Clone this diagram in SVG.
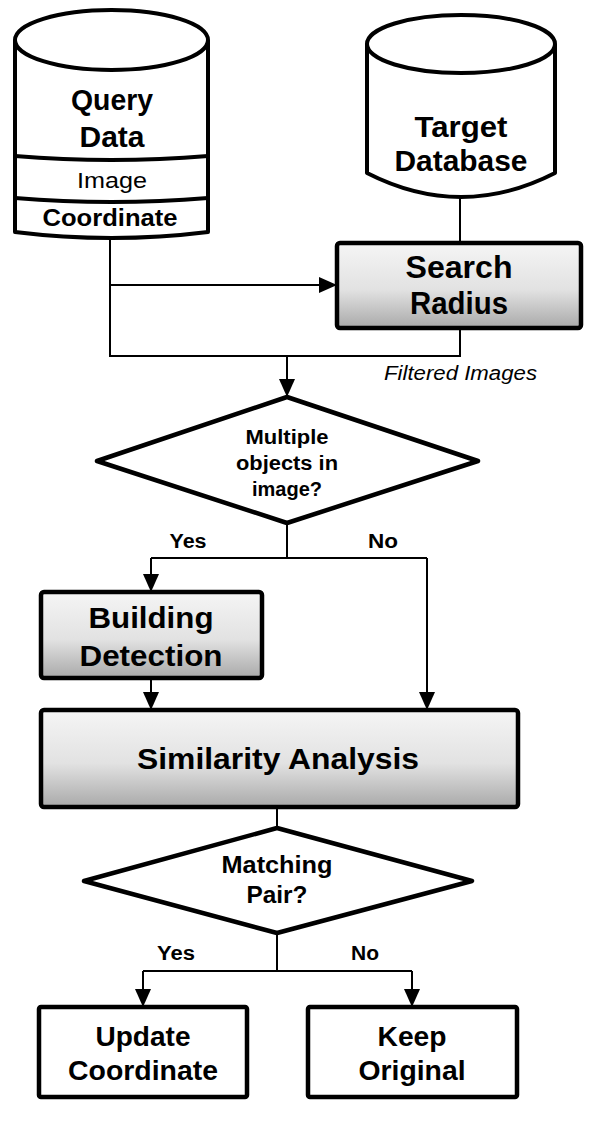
<svg xmlns="http://www.w3.org/2000/svg" width="594" height="1124" viewBox="0 0 594 1124">
<style>
  .shape{stroke:#000;stroke-width:4.5;stroke-linejoin:round}
  .cyl{fill:#fff;stroke:#000;stroke-width:4;stroke-linejoin:round}
  .band{fill:none;stroke:#000;stroke-width:4}
  .plain{fill:#fff}
  .grad{fill:url(#g)}
  .conn{fill:none;stroke:#000;stroke-width:2}
  .arr{marker-end:url(#ah)}
  text{font-family:"Liberation Sans",Arial,sans-serif;fill:#000;text-anchor:middle}
  .b{font-weight:bold}
  .it{font-style:italic;text-anchor:start}
</style>
<defs>
  <linearGradient id="g" x1="0" y1="0" x2="0" y2="1">
    <stop offset="0" stop-color="#f5f5f5"/>
    <stop offset="0.55" stop-color="#e2e2e2"/>
    <stop offset="1" stop-color="#a9a9a9"/>
  </linearGradient>
  <marker id="ah" markerUnits="userSpaceOnUse" markerWidth="18" markerHeight="16" refX="18" refY="8" orient="auto" viewBox="0 0 18 16">
    <path d="M0,0 L18,8 L0,16 Z" fill="#000"/>
  </marker>
</defs>

<g id="connectors">
  <path class="conn" d="M110,238 V356 H460 V328"/>
  <path class="conn arr" d="M110,285 H337"/>
  <path class="conn" d="M460,197 V243"/>
  <path class="conn arr" d="M287,356 V397"/>
  <path class="conn" d="M287,523 V558 M151,558 H427"/>
  <path class="conn arr" d="M151,558 V592"/>
  <path class="conn arr" d="M427,558 V710"/>
  <path class="conn arr" d="M151,678 V710"/>
  <path class="conn" d="M277,807 V828"/>
  <path class="conn" d="M277,933 V971 M143,971 H412"/>
  <path class="conn arr" d="M143,971 V1007"/>
  <path class="conn arr" d="M412,971 V1007"/>
</g>

<g id="query-data">
  <path class="cyl" d="M15,40 A96.5,30 0 0 1 208,40 V232 Q111.5,244 15,232 Z"/>
  <path class="band" d="M15,40 A96.5,30 0 0 0 208,40"/>
  <path class="band" d="M15,156 Q111.5,164 208,156"/>
  <path class="band" d="M15,198 Q111.5,206 208,198"/>
  <text class="b" x="112" y="110" font-size="29" textLength="82" lengthAdjust="spacingAndGlyphs">Query</text>
  <text class="b" x="112" y="147" font-size="29" textLength="65" lengthAdjust="spacingAndGlyphs">Data</text>
  <text x="112" y="188" font-size="22" textLength="70" lengthAdjust="spacingAndGlyphs">Image</text>
  <text class="b" x="110" y="226" font-size="24" textLength="135" lengthAdjust="spacingAndGlyphs">Coordinate</text>
</g>

<g id="target-database">
  <path class="cyl" d="M367,44 A94,29 0 0 1 555,44 V173 Q461,221 367,173 Z"/>
  <path class="band" d="M367,44 A94,29 0 0 0 555,44"/>
  <text class="b" x="461" y="137" font-size="30" textLength="93" lengthAdjust="spacingAndGlyphs">Target</text>
  <text class="b" x="461" y="171" font-size="30" textLength="133" lengthAdjust="spacingAndGlyphs">Database</text>
</g>

<g id="search-radius">
  <rect class="shape grad" x="337" y="243" width="244" height="85" rx="3"/>
  <text class="b" x="459" y="278" font-size="31" textLength="107" lengthAdjust="spacingAndGlyphs">Search</text>
  <text class="b" x="459" y="314" font-size="31" textLength="98" lengthAdjust="spacingAndGlyphs">Radius</text>
</g>

<g id="filtered-label">
  <text class="it" x="384" y="380" font-size="20" textLength="153" lengthAdjust="spacingAndGlyphs">Filtered Images</text>
</g>

<g id="decision-multiple">
  <polygon class="shape plain" points="287,397 478,461 287,523 97,461"/>
  <text class="b" x="287" y="444" font-size="20" textLength="83" lengthAdjust="spacingAndGlyphs">Multiple</text>
  <text class="b" x="287" y="470" font-size="20" textLength="102" lengthAdjust="spacingAndGlyphs">objects in</text>
  <text class="b" x="287" y="496" font-size="20" textLength="70" lengthAdjust="spacingAndGlyphs">image?</text>
  <text class="b" x="188" y="548" font-size="20" textLength="37" lengthAdjust="spacingAndGlyphs">Yes</text>
  <text class="b" x="383" y="548" font-size="20" textLength="30" lengthAdjust="spacingAndGlyphs">No</text>
</g>

<g id="building-detection">
  <rect class="shape grad" x="41" y="592" width="221" height="86" rx="3"/>
  <text class="b" x="151" y="628" font-size="30" textLength="125" lengthAdjust="spacingAndGlyphs">Building</text>
  <text class="b" x="151" y="666" font-size="30" textLength="143" lengthAdjust="spacingAndGlyphs">Detection</text>
</g>

<g id="similarity-analysis">
  <rect class="shape grad" x="41" y="710" width="477" height="97" rx="3"/>
  <text class="b" x="278" y="769" font-size="30" textLength="282" lengthAdjust="spacingAndGlyphs">Similarity Analysis</text>
</g>

<g id="decision-matching">
  <polygon class="shape plain" points="277,828 472,881 277,933 84,881"/>
  <text class="b" x="277" y="873" font-size="23" textLength="111" lengthAdjust="spacingAndGlyphs">Matching</text>
  <text class="b" x="277" y="903" font-size="23" textLength="61" lengthAdjust="spacingAndGlyphs">Pair?</text>
  <text class="b" x="176" y="960" font-size="20" textLength="38" lengthAdjust="spacingAndGlyphs">Yes</text>
  <text class="b" x="365" y="960" font-size="20" textLength="28" lengthAdjust="spacingAndGlyphs">No</text>
</g>

<g id="update-coordinate">
  <rect class="shape plain" x="39" y="1007" width="208" height="90" rx="2"/>
  <text class="b" x="143" y="1046" font-size="28" textLength="95" lengthAdjust="spacingAndGlyphs">Update</text>
  <text class="b" x="143" y="1080" font-size="28" textLength="150" lengthAdjust="spacingAndGlyphs">Coordinate</text>
</g>

<g id="keep-original">
  <rect class="shape plain" x="308" y="1007" width="209" height="90" rx="2"/>
  <text class="b" x="412" y="1046" font-size="28" textLength="69" lengthAdjust="spacingAndGlyphs">Keep</text>
  <text class="b" x="412" y="1080" font-size="28" textLength="107" lengthAdjust="spacingAndGlyphs">Original</text>
</g>
</svg>
